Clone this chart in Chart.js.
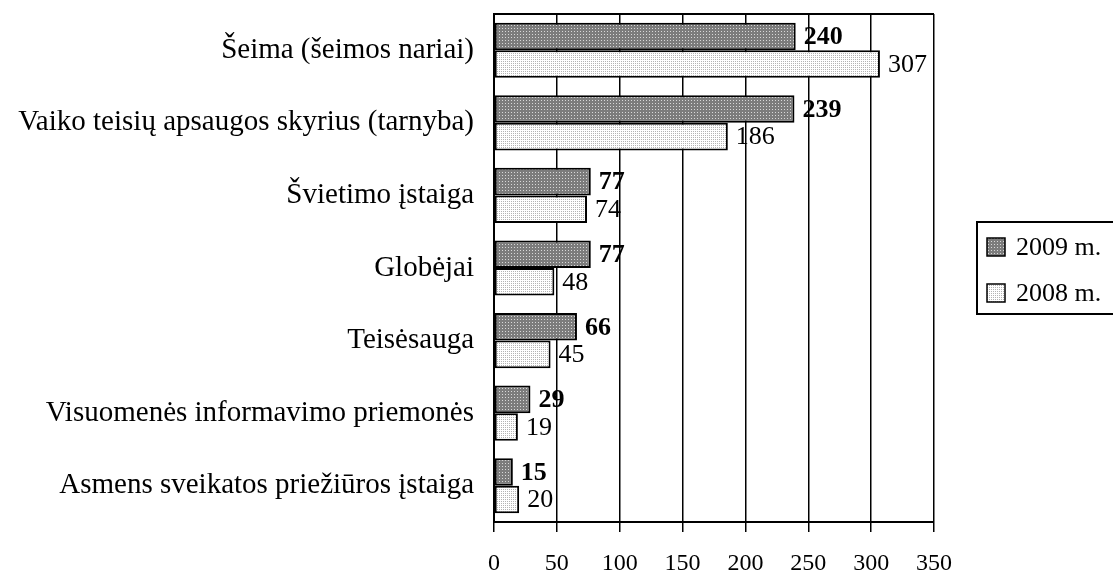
<!doctype html>
<html lang="lt">
  <head>
    <meta charset="utf-8">
    <title>Kreipėsi</title>
    <style>
      * { margin: 0; padding: 0; }
      body { background: #fff; }
      .chartBox { width: 1113px; height: 572px; }
    </style>
  </head>
  <body>
    <div class="chartBox">
      <canvas id="myChart" width="1113" height="572"></canvas>
    </div>
    <script src="https://cdn.jsdelivr.net/npm/chart.js/dist/chart.umd.min.js"></script>
    <script>
    // data
    const categories = [
      'Šeima (šeimos nariai)',
      'Vaiko teisių apsaugos skyrius (tarnyba)',
      'Švietimo įstaiga',
      'Globėjai',
      'Teisėsauga',
      'Visuomenės informavimo priemonės',
      'Asmens sveikatos priežiūros įstaiga'
    ];
    const values2009 = [240, 239, 77, 77, 66, 29, 15];
    const values2008 = [307, 186, 74, 48, 45, 19, 20];
    const seriesNames = ['2009 m.', '2008 m.'];
    const xTicks = [0, 50, 100, 150, 200, 250, 300, 350];

    const FONT = '"Liberation Serif", "Times New Roman", serif';

    // dotted fills like the old Excel patterns
    function makePattern(bg, dot, size) {
      const c = document.createElement('canvas');
      c.width = size; c.height = size;
      const g = c.getContext('2d');
      g.fillStyle = bg;
      g.fillRect(0, 0, size, size);
      g.fillStyle = dot;
      g.fillRect(1, 1, 1, 1);
      return g.createPattern(c, 'repeat');
    }
    const ctx = document.getElementById('myChart').getContext('2d');
    const darkFill = makePattern('#7c7c7c', '#d8d8d8', 3);
    const lightFill = makePattern('#ffffff', '#b4b4b4', 2);

    // value labels next to bar ends, top border and legend box
    const extras = {
      id: 'extras',
      afterDatasetsDraw(chart) {
        const c = chart.ctx;
        const area = chart.chartArea;
        c.save();
        c.strokeStyle = '#000';
        c.lineWidth = 2;
        c.beginPath();
        c.moveTo(area.left, area.top);
        c.lineTo(area.right, area.top);
        c.stroke();

        c.fillStyle = '#000';
        c.textBaseline = 'middle';
        c.textAlign = 'left';
        chart.data.datasets.forEach((ds, i) => {
          const meta = chart.getDatasetMeta(i);
          c.font = (i === 0 ? 'bold ' : '') + '26px ' + FONT;
          meta.data.forEach((bar, j) => {
            c.fillText(String(ds.data[j]), bar.x + 8, bar.y + 1);
          });
        });
        c.restore();
      },
      afterDraw(chart) {
        const c = chart.ctx;
        c.save();
        c.strokeStyle = '#000';
        c.lineWidth = 2;
        c.strokeRect(977, 222, 150, 92);
        c.font = '26px ' + FONT;
        c.textBaseline = 'middle';
        c.fillStyle = '#000';
        chart.data.datasets.forEach((ds, i) => {
          const y = 238 + i * 46;
          c.fillStyle = ds.backgroundColor;
          c.fillRect(987, y, 18, 18);
          c.lineWidth = 1.5;
          c.strokeRect(987, y, 18, 18);
          c.fillStyle = '#000';
          c.fillText(ds.label, 1016, y + 10);
        });
        c.restore();
      }
    };

    const config = {
      type: 'bar',
      data: {
        labels: categories,
        datasets: [
          {
            label: seriesNames[0],
            data: values2009,
            backgroundColor: darkFill,
            borderColor: '#000',
            borderWidth: 2,
            borderSkipped: false
          },
          {
            label: seriesNames[1],
            data: values2008,
            backgroundColor: lightFill,
            borderColor: '#000',
            borderWidth: 2,
            borderSkipped: false
          }
        ]
      },
      options: {
        indexAxis: 'y',
        responsive: false,
        animation: false,
        events: [],
        layout: { padding: { left: 0, top: 14, right: 179, bottom: 0 } },
        datasets: {
          bar: { categoryPercentage: 0.76, barPercentage: 1 }
        },
        scales: {
          x: {
            min: 0,
            max: 350,
            afterBuildTicks: (scale) => {
              scale.ticks = xTicks.map(v => ({ value: v }));
            },
            afterFit: (scale) => { scale.height = 50; },
            grid: {
              color: '#000',
              lineWidth: 1.5,
              tickLength: 10,
              drawTicks: true
            },
            border: { display: true, color: '#000', width: 2 },
            ticks: {
              color: '#000',
              padding: 17,
              maxRotation: 0,
              font: { family: FONT, size: 24 }
            }
          },
          y: {
            afterFit: (scale) => {
              scale.width = 494;
              scale.paddingTop = 0;
              scale.paddingBottom = 0;
            },
            grid: { display: false, drawTicks: false },
            border: { display: true, color: '#000', width: 2 },
            ticks: {
              color: '#000',
              padding: 20,
              font: { family: FONT, size: 29 }
            }
          }
        },
        plugins: {
          legend: { display: false },
          tooltip: { enabled: false }
        }
      },
      plugins: [extras]
    };

    const myChart = new Chart(ctx, config);
    </script>
  </body>
</html>
